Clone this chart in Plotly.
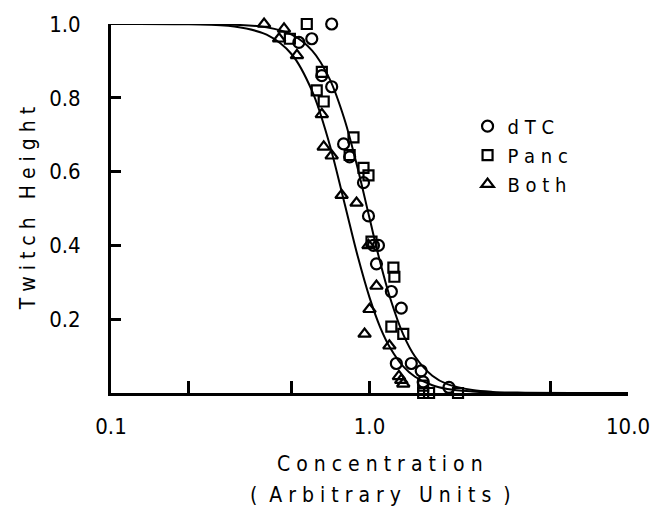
import plotly.graph_objects as go

# ---- data ----
dtc_x = [0.714, 0.533, 0.598, 0.654, 0.714, 0.794, 0.838, 0.948, 0.991, 1.036, 1.083, 1.064, 1.215, 1.327, 1.27, 1.451, 1.585, 1.613, 2.03]
dtc_y = [1.0, 0.95, 0.96, 0.86, 0.83, 0.675, 0.64, 0.57, 0.48, 0.40, 0.40, 0.35, 0.275, 0.23, 0.08, 0.08, 0.06, 0.03, 0.015]

panc_x = [0.572, 0.492, 0.654, 0.625, 0.665, 0.867, 0.838, 0.948, 0.991, 1.018, 1.237, 1.248, 1.215, 1.351, 1.613, 1.613, 1.70, 2.20]
panc_y = [1.0, 0.96, 0.87, 0.82, 0.79, 0.693, 0.645, 0.61, 0.59, 0.41, 0.34, 0.315, 0.18, 0.16, 0.02, 0.0, 0.0, 0.0]

both_x = [0.391, 0.467, 0.447, 0.524, 0.654, 0.665, 0.714, 0.780, 0.891, 0.991, 1.064, 1.0, 0.957, 1.194, 1.327, 1.351, 1.30]
both_y = [1.0, 0.987, 0.96, 0.915, 0.755, 0.667, 0.643, 0.536, 0.515, 0.40, 0.29, 0.227, 0.16, 0.128, 0.035, 0.025, 0.045]

curve_x = [0.1, 0.2, 0.3, 0.4, 0.5, 0.6, 0.7, 0.8, 0.9, 1.0, 1.1, 1.2, 1.35, 1.5, 1.75, 2.0, 2.5, 3.0, 4.0, 6.0, 10.0]
curve_right_y = [1.0, 1.0, 0.998, 0.991, 0.971, 0.928, 0.852, 0.742, 0.609, 0.474, 0.354, 0.259, 0.159, 0.099, 0.047, 0.024, 0.008, 0.003, 0.001, 0.0, 0.0]
curve_left_y = [1.0, 0.999, 0.993, 0.971, 0.918, 0.818, 0.675, 0.515, 0.371, 0.259, 0.178, 0.123, 0.072, 0.044, 0.021, 0.011, 0.004, 0.001, 0.0, 0.0, 0.0]

x_tickvals = [0.1, 0.2, 0.5, 1.0, 5.0, 10.0]
x_ticktext = ["0.1", "", "", "1.0", "", "10.0"]
y_tickvals = [0.2, 0.4, 0.6, 0.8, 1.0]
y_ticktext = ["0.2", "0.4", "0.6", "0.8", "1.0"]

FONT = "DejaVu Sans Condensed, Liberation Sans Narrow, DejaVu Sans"

fig = go.Figure()
fig.add_trace(go.Scatter(x=curve_x, y=curve_right_y, mode="lines", line=dict(color="black", width=2, shape="spline", smoothing=1.0), showlegend=False, cliponaxis=False))
fig.add_trace(go.Scatter(x=curve_x, y=curve_left_y, mode="lines", line=dict(color="black", width=2, shape="spline", smoothing=1.0), showlegend=False, cliponaxis=False))

fig.add_trace(go.Scatter(x=dtc_x, y=dtc_y, mode="markers", name="d T C",
                         marker=dict(symbol="circle-open", size=11, color="black", line=dict(width=2.2)), cliponaxis=False))
fig.add_trace(go.Scatter(x=panc_x, y=panc_y, mode="markers", name="P a n c",
                         marker=dict(symbol="square-open", size=10, color="black", line=dict(width=2.2)), cliponaxis=False))
fig.add_trace(go.Scatter(x=both_x, y=both_y, mode="markers", name="B o t h",
                         marker=dict(symbol="triangle-up-open", size=11, color="black", line=dict(width=2.2)), cliponaxis=False))

L, R, T, B = 111, 29, 18, 117
pw, ph = 662 - L - R, 510 - T - B

fig.update_layout(
    width=662, height=510,
    margin=dict(l=L, r=R, t=T, b=B),
    paper_bgcolor="white", plot_bgcolor="white",
    font=dict(family=FONT, color="black", size=20),
    legend=dict(x=(471 - L) / pw, y=(393 - 102) / ph, xanchor="left", yanchor="top",
                font=dict(size=20, family=FONT), bgcolor="rgba(0,0,0,0)", tracegroupgap=0,
                itemwidth=30),
    xaxis=dict(type="log", range=[-1, 1], tickvals=x_tickvals, ticktext=x_ticktext,
               ticks="inside", ticklen=12, tickwidth=2.5, tickcolor="black",
               showline=True, linewidth=3, linecolor="black", showgrid=False, zeroline=False,
               tickfont=dict(size=22, family=FONT), ticklabelstandoff=12),
    yaxis=dict(range=[0, 1.0], tickvals=y_tickvals, ticktext=y_ticktext,
               ticks="inside", ticklen=10, tickwidth=2.5, tickcolor="black",
               showline=True, linewidth=3, linecolor="black", showgrid=False, zeroline=False,
               tickfont=dict(size=22, family=FONT), ticklabelstandoff=23),
    annotations=[
        dict(text="C o n c e n t r a t i o n", xref="paper", yref="paper",
             x=(383 - L) / pw, y=(393 - 465) / ph, xanchor="center", yanchor="middle",
             showarrow=False, font=dict(size=21, family=FONT)),
        dict(text="(  A r b i t r a r y   U n i t s  )", xref="paper", yref="paper",
             x=(383 - L) / pw, y=(393 - 497) / ph, xanchor="center", yanchor="middle",
             showarrow=False, font=dict(size=21, family=FONT)),
        dict(text="T w i t c h   H e i g h t", xref="paper", yref="paper",
             x=(27 - L) / pw, y=0.5, xanchor="center", yanchor="middle", textangle=-90,
             showarrow=False, font=dict(size=21, family=FONT)),
    ],
)

fig.write_html("out.html")
